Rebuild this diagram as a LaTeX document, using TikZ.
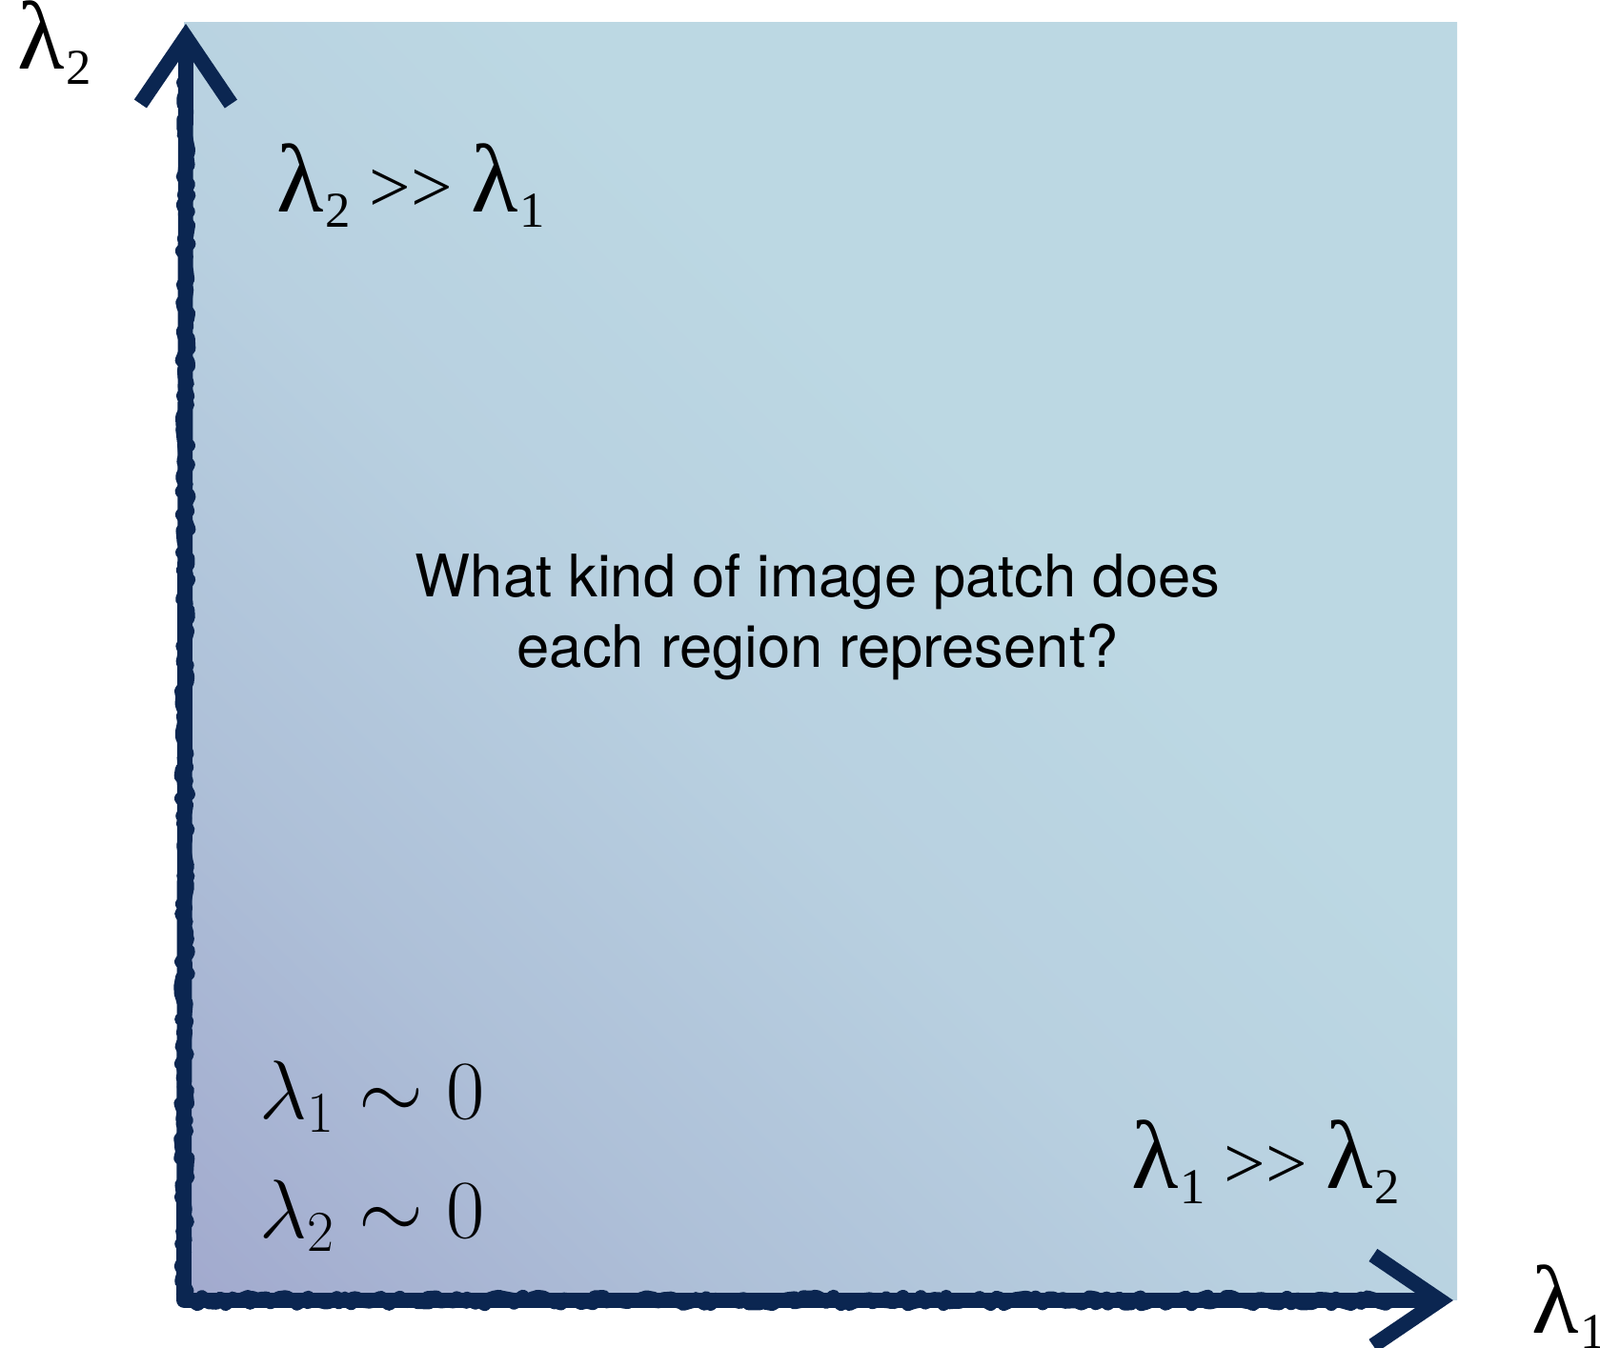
\documentclass[tikz,border=0pt]{standalone}
\usepackage{fontspec}
\setsansfont{TeX Gyre Heros}
\newfontfamily\timesfont{Liberation Serif}
\usepackage{tikz}
\usetikzlibrary{arrows.meta,decorations.pathmorphing}
\definecolor{navy}{HTML}{0B2651}
\definecolor{lavender}{HTML}{979BC6}
\definecolor{lilac}{HTML}{A2AACE}
\definecolor{midblue}{HTML}{AEC0D8}
\definecolor{softblue}{HTML}{B8D0E0}
\definecolor{paleblue}{HTML}{BCD8E3}
\pgfdeclarehorizontalshading{patchgrad}{100bp}{color(0bp)=(lavender); color(15bp)=(lilac); color(30bp)=(midblue); color(45bp)=(softblue); color(60bp)=(paleblue); color(100bp)=(paleblue)}
% lambda with a lowered index
\newcommand{\eig}[1]{{\fontsize{29}{29}\selectfont λ}\kern0.5pt\raisebox{-0.2em}{\fontsize{15}{15}\selectfont #1}}
\tikzset{
  axisline/.style={
    draw=navy, line width=4.5pt, line join=round,
    {Straight Barb[length=0.7cm, width=0.95cm]}-{Straight Barb[length=0.7cm, width=0.95cm]}
  },
  roughedge/.style={
    draw=navy, line width=#1, line join=round, line cap=round, decorate,
    decoration={random steps, segment length=1.5pt, amplitude=1.2pt}
  },
  roughedge/.default=4pt,
  eiglabel/.style={anchor=base west, inner sep=0pt,
    font=\timesfont\fontsize{22}{30}\selectfont},
  cmlabel/.style={anchor=base west, inner sep=0pt,
    font=\fontsize{24}{28}\selectfont},
  question/.style={align=center, inner sep=0pt,
    font=\sffamily\fontsize{17.5}{21.3}\selectfont},
}
\begin{document}
\begin{tikzpicture}
  \useasboundingbox (0,0) rectangle (16.79,14.15);
  % eigenvalue plane
  \shade[shading=patchgrad, shading angle=45] (1.93,0.50) rectangle (15.29,13.91);
  \coordinate (origin) at (1.93,0.50);
  \coordinate (ytip) at (1.95,13.90);
  \coordinate (xtip) at (15.25,0.50);
  \draw[axisline] (ytip) -- (origin) -- (xtip);
  \draw[roughedge] ([yshift=-0.6cm]ytip) -- (origin) -- ([xshift=-0.6cm]xtip);
  \draw[roughedge=2pt] ([yshift=-0.6cm]ytip) -- (origin) -- ([xshift=-0.6cm]xtip);
  % axis names
  \node[eiglabel] (ylab) at (0.18,13.42) {\eig{2}};
  \node[eiglabel] (xlab) at (16.07,0.15) {\eig{1}};
  % regions
  \node[eiglabel] (upper) at (2.90,11.92) {\eig{2} >\kern0pt> \eig{1}};
  \node[eiglabel] (lower) at (11.87,1.67) {\eig{1} >\kern0pt> \eig{2}};
  \node[cmlabel] (flat1) at (2.72,2.40) {$\lambda_1 \sim 0$};
  \node[cmlabel] (flat2) at (2.72,1.15) {$\lambda_2 \sim 0$};
  \node[question, anchor=base] (ask) at (8.58,7.14)
    {What kind of image patch does\\each region represent?};
\end{tikzpicture}
\end{document}
